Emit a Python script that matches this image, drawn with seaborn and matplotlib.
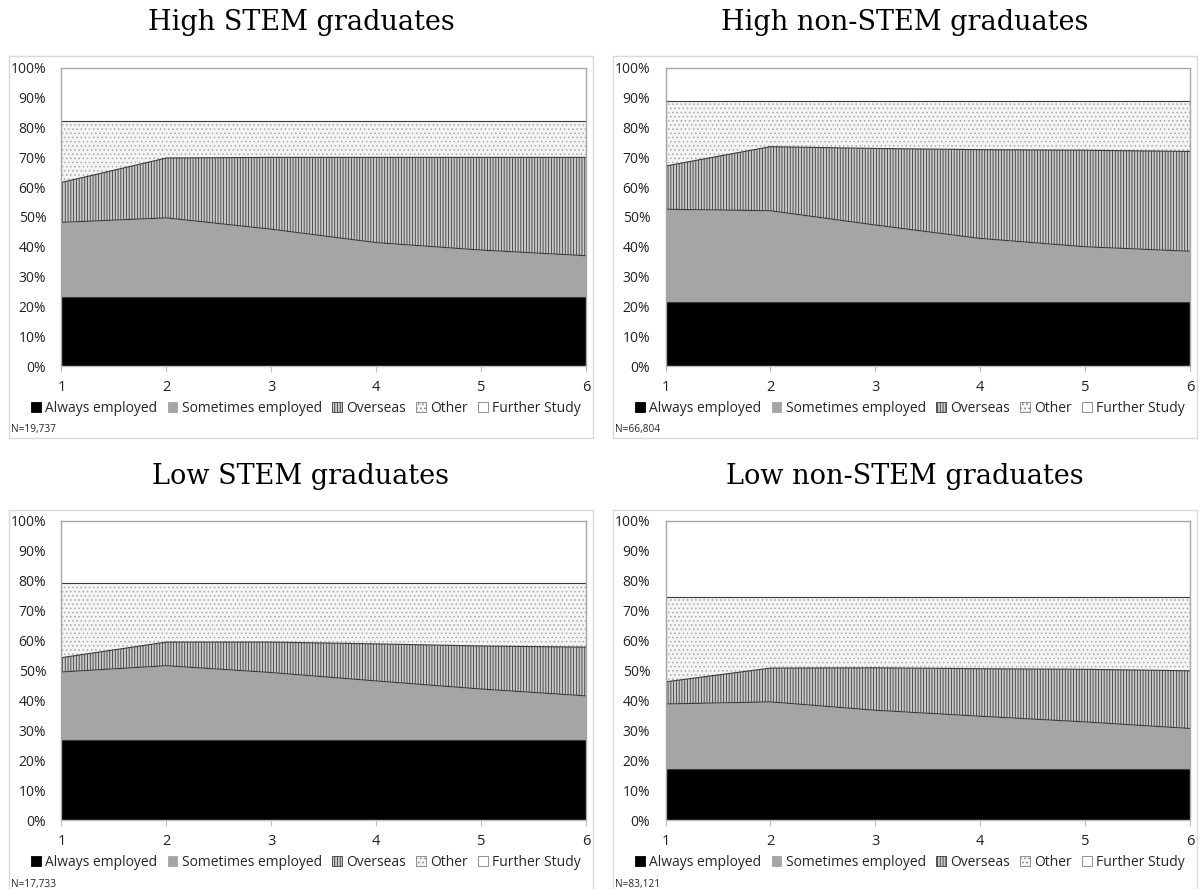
import numpy as np
import pandas as pd
import seaborn as sns
import matplotlib.pyplot as plt
from matplotlib.patches import Patch, Rectangle

years = [1, 2, 3, 4, 5, 6]
layers = ["Always employed", "Sometimes employed", "Overseas", "Other", "Further Study"]

# shares (%) per layer
hs_always = [23.3, 23.3, 23.3, 23.3, 23.3, 23.3]
hs_sometimes = [24.9, 26.4, 22.6, 18.1, 15.6, 13.7]
hs_overseas = [13.4, 20.1, 24.1, 28.6, 31.1, 33.0]
hs_other = [20.7, 12.5, 12.3, 12.3, 12.3, 12.3]
hs_further = [17.7, 17.7, 17.7, 17.7, 17.7, 17.7]

hn_always = [21.4, 21.4, 21.4, 21.4, 21.4, 21.4]
hn_sometimes = [31.2, 30.7, 25.9, 21.4, 18.6, 17.1]
hn_overseas = [14.5, 21.5, 25.7, 29.8, 32.4, 33.5]
hn_other = [21.9, 15.4, 16.0, 16.4, 16.6, 17.0]
hn_further = [11.0, 11.0, 11.0, 11.0, 11.0, 11.0]

ls_always = [26.9, 26.9, 26.9, 26.9, 26.9, 26.9]
ls_sometimes = [22.6, 24.7, 22.4, 19.6, 16.9, 14.6]
ls_overseas = [4.8, 7.9, 10.2, 12.4, 14.4, 16.3]
ls_other = [25.0, 19.8, 19.8, 20.4, 21.1, 21.5]
ls_further = [20.7, 20.7, 20.7, 20.7, 20.7, 20.7]

ln_always = [17.1, 17.1, 17.1, 17.1, 17.1, 17.1]
ln_sometimes = [21.7, 22.4, 19.6, 17.6, 15.7, 13.5]
ln_overseas = [7.4, 11.3, 14.2, 15.9, 17.6, 19.3]
ln_other = [28.4, 23.8, 23.7, 24.0, 24.2, 24.7]
ln_further = [25.4, 25.4, 25.4, 25.4, 25.4, 25.4]

titles = ["High STEM graduates", "High non-STEM graduates",
          "Low STEM graduates", "Low non-STEM graduates"]
notes = ["N=19,737", "N=66,804", "N=17,733", "N=83,121"]

panels = [
    [hs_always, hs_sometimes, hs_overseas, hs_other, hs_further],
    [hn_always, hn_sometimes, hn_overseas, hn_other, hn_further],
    [ls_always, ls_sometimes, ls_overseas, ls_other, ls_further],
    [ln_always, ln_sometimes, ln_overseas, ln_other, ln_further],
]

sns.set_style("white")
plt.rcParams["font.family"] = ["Open Sans", "DejaVu Sans"]
plt.rcParams["hatch.linewidth"] = 0.6

# facecolor, hatch, hatch colour
styles = [
    ("#000000", None, "#000000"),
    ("#a5a5a5", None, "#a5a5a5"),
    ("#cacaca", "||||||", "#3a3a3a"),
    ("#f4f4f4", "....", "#a8a8a8"),
    ("#ffffff", None, "#ffffff"),
]

W, H = 1200, 889
fig = plt.figure(figsize=(W / 100, H / 100), dpi=100)

# pixel layout: (box left, box right, axes left, axes right) and (box top, axes top, axes bottom, box bottom)
cols = [(9, 593, 61.5, 586), (613, 1197, 665.5, 1190)]
rows = [(56, 68, 366, 438), (510, 521, 820, 892)]


def fx(px):
    return px / W


def fy(py):
    return 1 - py / H


for k, shares in enumerate(panels):
    bl, br, al, ar = cols[k % 2]
    bt, at, ab, bb = rows[k // 2]
    box_cx = (bl + br) / 2

    fig.patches.append(Rectangle((fx(bl), fy(bb)), fx(br - bl), (bb - bt) / H,
                                 transform=fig.transFigure, fill=False,
                                 edgecolor="#d9d9d9", lw=1))
    fig.text(fx(box_cx), fy(bt - 34), titles[k], ha="center", va="center",
             fontsize=19.5, family="DejaVu Serif", color="black")

    ax = fig.add_axes([fx(al), fy(ab), fx(ar - al), (ab - at) / H])
    arr = np.array(shares)
    tops = np.cumsum(arr, axis=0)
    bottoms = tops - arr
    for i in range(len(layers)):
        fc, hatch, hc = styles[i]
        ax.fill_between(years, bottoms[i], tops[i], facecolor=fc, hatch=hatch,
                        edgecolor=hc, linewidth=0)

    lines = pd.DataFrame({
        "year": years * 4,
        "top": np.concatenate(tops[:4]),
        "layer": np.repeat(layers[:4], len(years)),
    })
    sns.lineplot(data=lines, x="year", y="top", units="layer", estimator=None,
                 color="#3a3a3a", lw=0.8, ax=ax, legend=False)

    ax.set_xlim(1, 6)
    ax.set_ylim(0, 100)
    ax.set_xticks(years)
    ax.set_yticks(range(0, 101, 10))
    ax.set_yticklabels([f"{v}%" for v in range(0, 101, 10)])
    ax.set_xlabel("")
    ax.set_ylabel("")
    ax.tick_params(axis="x", length=4, color="#bfbfbf", width=0.8, pad=6,
                   labelsize=10.5, labelcolor="#222222", bottom=True)
    ax.tick_params(axis="y", length=0, pad=11, labelsize=10, labelcolor="#222222")
    for s in ax.spines.values():
        s.set_color("#a6a6a6")
        s.set_linewidth(1)
    ax.spines["bottom"].set_color("#bfbfbf")

    handles = []
    for i in range(len(layers)):
        fc, hatch, hc = styles[i]
        ec = hc if i < 3 else "#808080"
        handles.append(Patch(facecolor=fc, hatch=hatch, edgecolor=ec, lw=0.6))
    fig.legend(handles, layers, loc="center", bbox_to_anchor=(fx(box_cx + 5), fy(ab + 42)),
               ncol=5, frameon=False, fontsize=10, handlelength=0.7,
               handleheight=0.7, handletextpad=0.3, columnspacing=0.75,
               borderaxespad=0, borderpad=0)
    fig.text(fx(bl + 2), fy(ab + 64), notes[k], ha="left", va="center", fontsize=7.3)

fig.savefig("out.png", dpi=100)
